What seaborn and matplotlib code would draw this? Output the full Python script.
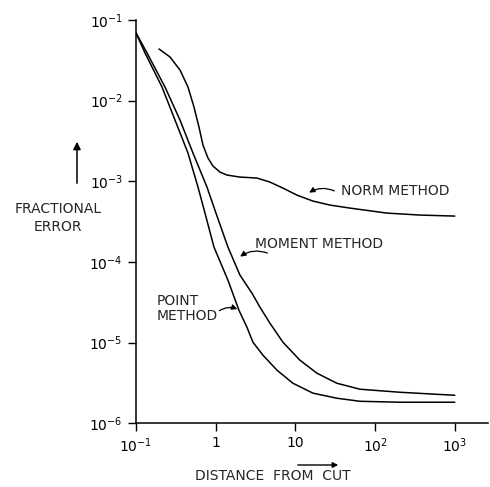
import matplotlib
matplotlib.use("Agg")
import matplotlib.pyplot as plt
from matplotlib.patches import FancyArrowPatch
import seaborn as sns
import pandas as pd

# ---- data ----
norm_x = [0.1942, 0.2669, 0.3562, 0.4487, 0.5336, 0.6166, 0.692, 0.7994, 0.9237, 1.131,
          1.384, 2.014, 3.290, 4.789, 6.970, 10.44, 16.58, 27.08, 48.25, 140.4, 364.0, 1000]
norm_y = [0.04368, 0.03475, 0.02396, 0.01475, 0.008328, 0.004704, 0.002812, 0.00194,
          0.001544, 0.0013, 0.001194, 0.001127, 0.001096, 0.000977, 0.000823, 0.000674, 0.000568,
          0.000507, 0.000465, 0.000403, 0.000381, 0.00037]

point_x = [0.1, 0.1297, 0.2118, 0.3083, 0.4487, 0.599, 0.7332, 0.9508, 1.424, 1.956, 2.465,
           2.932, 3.913, 5.861, 9.305, 16.58, 33.14, 64.40, 204.3, 1000]
point_y = [0.06897, 0.03897, 0.01475, 0.005745, 0.002238, 0.000848, 0.000403, 0.0001527, 5.94e-5,
           2.52e-5, 1.55e-5, 1.01e-5, 6.98e-6, 4.55e-6, 3.13e-6, 2.36e-6, 2.04e-6, 1.87e-6,
           1.82e-6, 1.82e-6]

moment_x = [0.1, 0.1374, 0.2309, 0.3562, 0.5185, 0.7767, 1.007, 1.424, 2.014, 2.848, 3.588,
            4.789, 6.970, 11.39, 18.61, 33.14, 64.40, 204.3, 1000]
moment_y = [0.06897, 0.03897, 0.01475, 0.005745, 0.002238, 0.000848, 0.000403, 0.0001527, 6.86e-5,
            4.10e-5, 2.75e-5, 1.74e-5, 1.01e-5, 6.05e-6, 4.17e-6, 3.13e-6, 2.64e-6, 2.42e-6, 2.22e-6]

x_ticks = [0.1, 1, 10, 100, 1000]
x_tick_labels = [r"$10^{-1}$", "1", "10", r"$10^{2}$", r"$10^{3}$"]
y_ticks = [1e-6, 1e-5, 1e-4, 1e-3, 1e-2, 1e-1]
y_tick_labels = [r"$10^{-6}$", r"$10^{-5}$", r"$10^{-4}$", r"$10^{-3}$", r"$10^{-2}$", r"$10^{-1}$"]

df = pd.concat([
    pd.DataFrame({"distance": norm_x, "error": norm_y, "method": "NORM METHOD"}),
    pd.DataFrame({"distance": point_x, "error": point_y, "method": "POINT METHOD"}),
    pd.DataFrame({"distance": moment_x, "error": moment_y, "method": "MOMENT METHOD"}),
], ignore_index=True)

sns.set_style("ticks")
plt.rcParams["font.family"] = ["DejaVu Sans"]
plt.rcParams["mathtext.default"] = "regular"

fig = plt.figure(figsize=(4.9, 4.87), dpi=100)
ax = fig.add_axes([0.2776, 0.131, 0.718, 0.828])

sns.lineplot(data=df, x="distance", y="error", hue="method", units="method",
             estimator=None, sort=False, legend=False,
             palette={"NORM METHOD": "black", "POINT METHOD": "black", "MOMENT METHOD": "black"},
             linewidth=1.1, ax=ax)

ax.set_xscale("log")
ax.set_yscale("log")
ax.set_xlim(0.1, 2600)
ax.set_ylim(1e-6, 1e-1)
ax.set_xticks(x_ticks)
ax.set_xticklabels(x_tick_labels)
ax.set_yticks(y_ticks)
ax.set_yticklabels(y_tick_labels)
ax.minorticks_off()
ax.tick_params(axis="both", direction="out", length=6, width=1.0, labelsize=10, colors="black")
ax.set_xlabel("")
ax.set_ylabel("")
sns.despine(ax=ax)
for s in ("left", "bottom"):
    ax.spines[s].set_linewidth(1.1)
    ax.spines[s].set_color("black")

# curve labels
ax.text(37, 7.6e-4, "NORM METHOD", fontsize=10, va="center", ha="left")
ax.text(3.1, 1.66e-4, "MOMENT METHOD", fontsize=10, va="center", ha="left")
ax.text(0.183, 2.67e-5, "POINT\nMETHOD", fontsize=10, va="center", ha="left", linespacing=1.1)

arrow = dict(arrowstyle="-|>", color="black", lw=0.9, mutation_scale=8,
             connectionstyle="arc3,rad=0.3")
ax.annotate("", xy=(13.9, 6.93e-4), xytext=(33.1, 7.34e-4), arrowprops=arrow)
ax.annotate("", xy=(1.90, 1.11e-4), xytext=(4.79, 1.25e-4), arrowprops=arrow)
ax.annotate("", xy=(2.01, 2.52e-5), xytext=(1.04, 2.38e-5),
            arrowprops=dict(arrow, connectionstyle="arc3,rad=-0.3"))

# axis titles
fig.text(58 / 490, 1 - 218 / 487, "FRACTIONAL\nERROR", fontsize=10, ha="center", va="center",
         linespacing=1.45)
fig.add_artist(FancyArrowPatch(
    (77 / 490, 1 - 186 / 487), (77 / 490, 1 - 139 / 487), arrowstyle="-|>",
    mutation_scale=11, lw=1.1, color="black", transform=fig.transFigure))
fig.text(273 / 490, 1 - 476 / 487, "DISTANCE  FROM  CUT", fontsize=10, ha="center", va="center")
fig.add_artist(FancyArrowPatch(
    (295 / 490, 1 - 465 / 487), (341 / 490, 1 - 465 / 487), arrowstyle="-|>",
    mutation_scale=8, lw=1.0, color="black", transform=fig.transFigure))

fig.savefig("out.png", dpi=100)
